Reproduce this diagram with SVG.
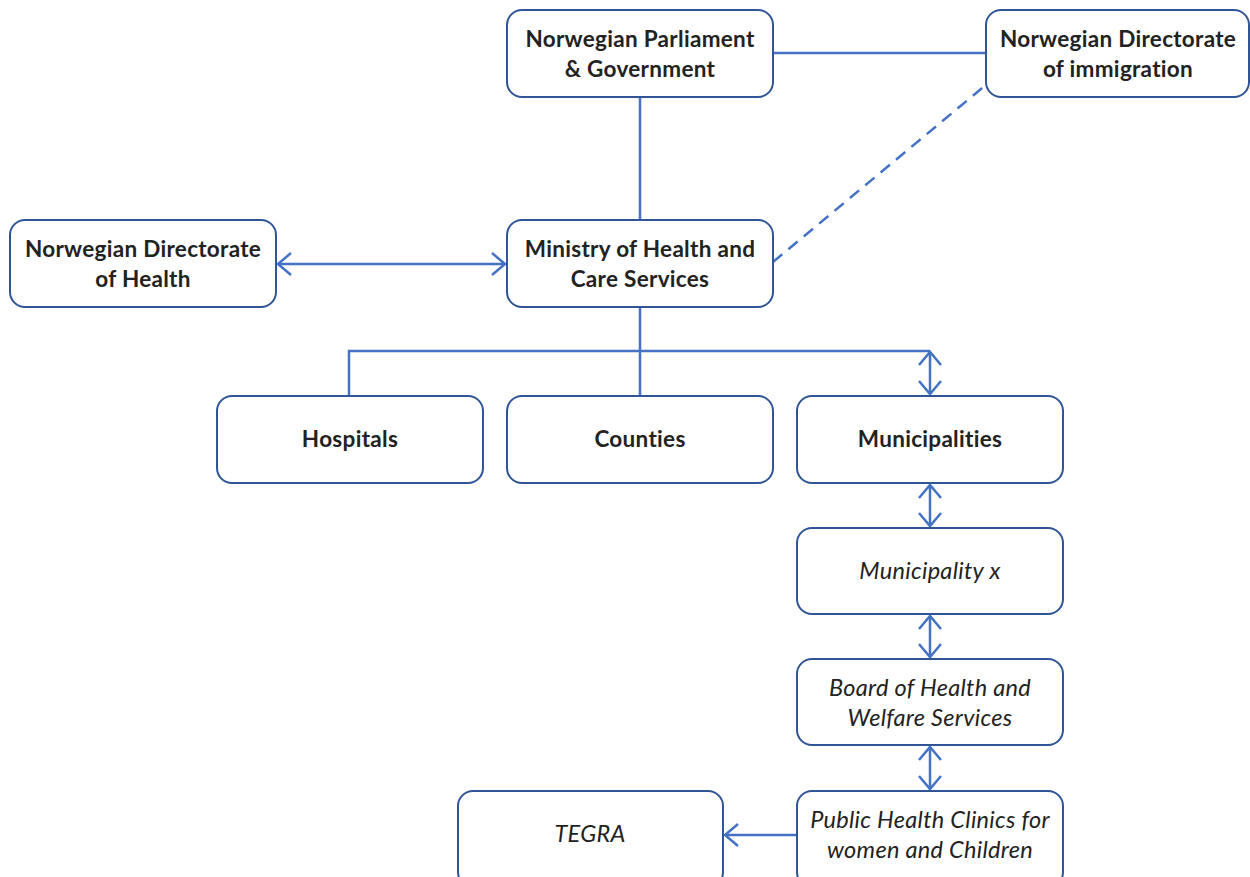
<svg xmlns="http://www.w3.org/2000/svg" width="1250" height="877" viewBox="0 0 1250 877">
<style>
.box{fill:#fff;stroke:#2F5597;stroke-width:2}
.t{font-family:Lato,"Open Sans",sans-serif;font-size:22.5px;fill:#222;text-anchor:middle}
.b{font-weight:bold;letter-spacing:0.3px}
.i{font-style:italic;font-size:23.5px;letter-spacing:0.3px}
.c{stroke:#4472C4;stroke-width:2.5;fill:none}
</style>
<defs>
<marker id="ah" markerWidth="16" markerHeight="24" refX="14" refY="12" orient="auto-start-reverse" markerUnits="userSpaceOnUse">
<path d="M1,1 L14,12 L1,23" fill="none" stroke="#4472C4" stroke-width="2.5"/>
</marker>
</defs>
<g id="connectors">
<line class="c" x1="773" y1="53" x2="986" y2="53"/>
<line class="c" x1="640" y1="97" x2="640" y2="220"/>
<line class="c" x1="773" y1="262" x2="987" y2="84" stroke-dasharray="12,8"/>
<line class="c" x1="278" y1="264" x2="505" y2="264" marker-start="url(#ah)" marker-end="url(#ah)"/>
<line class="c" x1="640" y1="307" x2="640" y2="396"/>
<polyline class="c" points="349,396 349,351 930,351"/>
<line class="c" x1="930" y1="352" x2="930" y2="394" marker-start="url(#ah)" marker-end="url(#ah)"/>
<line class="c" x1="930" y1="485" x2="930" y2="526" marker-start="url(#ah)" marker-end="url(#ah)"/>
<line class="c" x1="930" y1="616" x2="930" y2="657" marker-start="url(#ah)" marker-end="url(#ah)"/>
<line class="c" x1="930" y1="747" x2="930" y2="789" marker-start="url(#ah)" marker-end="url(#ah)"/>
<line class="c" x1="797" y1="835" x2="725" y2="835" marker-end="url(#ah)"/>
</g>
<g id="parliament"><rect class="box" x="507" y="10" width="266" height="87" rx="15"/><text class="t b" x="640" y="47">Norwegian Parliament</text><text class="t b" x="640" y="77">&amp; Government</text></g>
<g id="immigration"><rect class="box" x="986" y="10" width="263" height="87" rx="15"/><text class="t b" x="1118" y="47">Norwegian Directorate</text><text class="t b" x="1118" y="77">of immigration</text></g>
<g id="dirhealth"><rect class="box" x="10" y="220" width="266" height="87" rx="15"/><text class="t b" x="143" y="257">Norwegian Directorate</text><text class="t b" x="143" y="287">of Health</text></g>
<g id="ministry"><rect class="box" x="507" y="220" width="266" height="87" rx="15"/><text class="t b" x="640" y="257">Ministry of Health and</text><text class="t b" x="640" y="287">Care Services</text></g>
<g id="hospitals"><rect class="box" x="217" y="396" width="266" height="87" rx="15"/><text class="t b" x="350" y="447">Hospitals</text></g>
<g id="counties"><rect class="box" x="507" y="396" width="266" height="87" rx="15"/><text class="t b" x="640" y="447">Counties</text></g>
<g id="municipalities"><rect class="box" x="797" y="396" width="266" height="87" rx="15"/><text class="t b" x="930" y="447">Municipalities</text></g>
<g id="municipalityx"><rect class="box" x="797" y="528" width="266" height="86" rx="15"/><text class="t i" x="930" y="579">Municipality x</text></g>
<g id="board"><rect class="box" x="797" y="659" width="266" height="86" rx="15"/><text class="t i" x="930" y="696">Board of Health and</text><text class="t i" x="930" y="726">Welfare Services</text></g>
<g id="clinics"><rect class="box" x="797" y="791" width="266" height="96" rx="15"/><text class="t i" x="930" y="828">Public Health Clinics for</text><text class="t i" x="930" y="858">women and Children</text></g>
<g id="tegra"><rect class="box" x="458" y="791" width="265" height="96" rx="15"/><text class="t i" x="590" y="842">TEGRA</text></g>
</svg>
